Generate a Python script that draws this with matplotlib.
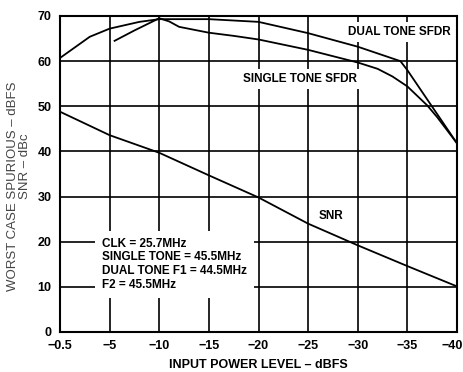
import numpy as np
import matplotlib
matplotlib.use('Agg')
import matplotlib.pyplot as plt
import matplotlib.transforms as mtransforms

# x positions on the chart's evenly spaced scale (leftmost tick is -0.5 dBFS)
x_ticks = [0, -5, -10, -15, -20, -25, -30, -35, -40]
x_ticklabels = ['\u22120.5', '\u22125', '\u221210', '\u221215', '\u221220',
                '\u221225', '\u221230', '\u221235', '\u221240']
y_ticks = [0, 10, 20, 30, 40, 50, 60, 70]

dual_x = [0, -3, -5, -8, -10, -15, -20, -25, -30, -34.3, -35, -40]
dual_y = [60.7, 65.4, 67.2, 68.7, 69.3, 69.3, 68.7, 66.2, 63.2, 60.0, 58.0, 41.8]

single_x = [-5.5, -7.5, -10, -11, -12, -15, -17.5, -20, -25, -30, -32, -33.5, -35, -37, -38, -40]
single_y = [64.5, 66.8, 69.5, 68.8, 67.6, 66.3, 65.6, 64.8, 62.5, 59.7, 58.3, 56.6, 54.4, 50.2, 47.6, 41.8]

snr_x = [0, -5, -10, -15, -20, -25, -30, -35, -40]
snr_y = [48.8, 43.6, 39.7, 34.7, 29.8, 24.0, 19.2, 14.6, 10.1]

info = 'CLK = 25.7MHz\nSINGLE TONE = 45.5MHz\nDUAL TONE F1 = 44.5MHz\nF2 = 45.5MHz'

plt.rcParams['font.family'] = ['Liberation Sans', 'DejaVu Sans']

fig = plt.figure(figsize=(4.64, 3.72), dpi=100)
ax = fig.add_axes([60/464, 1 - 332/372, 397/464, 316/372])

ax.plot(dual_x, dual_y, color='black', lw=1.3, zorder=2)
ax.plot(single_x, single_y, color='black', lw=1.3, zorder=2)
ax.plot(snr_x, snr_y, color='black', lw=1.3, zorder=2)

ax.set_xlim(0, -40)
ax.set_ylim(0, 70)
ax.set_xticks(x_ticks)
ax.set_xticklabels(x_ticklabels)
ax.set_yticks(y_ticks)
ax.grid(True, color='black', lw=1.2)
ax.set_axisbelow(True)
ax.tick_params(length=0, labelsize=9, pad=6)
for lab in ax.get_xticklabels() + ax.get_yticklabels():
    lab.set_fontweight('bold')
# last x label sits against the right edge, as in the original
last = ax.get_xticklabels()[-1]
last.set_horizontalalignment('right')
last.set_transform(last.get_transform() +
                   mtransforms.ScaledTranslation(6/100, 0, fig.dpi_scale_trans))
for s in ax.spines.values():
    s.set_linewidth(1.5)

box = dict(facecolor='white', edgecolor='none', pad=3)
ax.text(-39.4, 66.5, 'DUAL TONE SFDR', ha='right', va='center', fontsize=8.5,
        fontweight='bold', bbox=box, zorder=3)
ax.text(-18.4, 56.0, 'SINGLE TONE SFDR', ha='left', va='center', fontsize=8.5,
        fontweight='bold', bbox=box, zorder=3)
ax.text(-27.3, 25.8, 'SNR', ha='center', va='center', fontsize=8.5,
        fontweight='bold', zorder=3)
ax.text(-4.2, 15.0, info, ha='left', va='center', fontsize=8.5,
        fontweight='bold', linespacing=1.2, zorder=3,
        bbox=dict(facecolor='white', edgecolor='none', pad=5))

ax.set_xlabel('INPUT POWER LEVEL \u2013 dBFS', fontsize=9, fontweight='bold', labelpad=5)
fig.text(0.028, 0.5, 'WORST CASE SPURIOUS \u2013 dBFS', rotation=90, ha='center',
         va='center', fontsize=9.5, color='#444444')
fig.text(0.054, 0.554, 'SNR \u2013 dBc', rotation=90, ha='center', va='center',
         fontsize=9.5, color='#444444')

fig.savefig('out.png', dpi=100)
